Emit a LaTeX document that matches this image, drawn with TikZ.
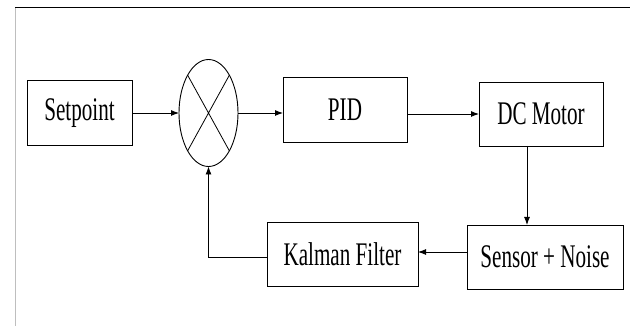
\documentclass[tikz,border=0pt]{standalone}
\usepackage{fontspec}
\setmainfont[FakeStretch=0.64]{Liberation Serif}
\usepackage{tikz}
\usetikzlibrary{arrows.meta,calc,positioning,shapes.geometric}
\definecolor{FrameGray}{RGB}{190,190,190}

\begin{document}
\begin{tikzpicture}[x=1pt,y=-1pt,
  block/.style={draw,line width=0.9pt,rectangle,inner sep=0pt,outer sep=0pt,
    font=\fontsize{33}{36}\selectfont},
  signal/.style={-{Latex[length=8pt,width=6pt]},line width=0.9pt}]
  \useasboundingbox (0,0) rectangle (630,326);
  \draw[FrameGray,line width=1pt] (15,326) -- (15,8);
  \draw[line width=1pt] (15,8) -- (630,8);
  \node[block,minimum width=105pt,minimum height=65pt] (setpoint) at (79.5,113) {Setpoint};
  \node[draw,ellipse,line width=0.9pt,inner sep=0pt,outer sep=0pt,
    minimum width=59pt,minimum height=107pt] (sum) at (208.5,113) {};
  \draw[line width=0.8pt] (sum.north west) -- (sum.south east)
    (sum.north east) -- (sum.south west);
  \node[block,minimum width=124pt,minimum height=65pt] (pid) at (345,109.5) {PID};
  \node[block,minimum width=124pt,minimum height=64pt] (motor) at (541,114) {DC Motor};
  \node[block,minimum width=156pt,minimum height=64pt] (sensor) at (545,257) {Sensor + Noise};
  \node[block,minimum width=151pt,minimum height=64pt] (kalman) at (342.5,254) {Kalman Filter};
  % forward path
  \draw[signal] (setpoint.east) -- (setpoint.east -| sum.west);
  \draw[signal] (sum.east) -- (sum.east -| pid.west);
  \draw[signal] (pid.east |- motor.west) -- (motor.west);
  \draw[signal] ([xshift=-14pt]motor.south) -- ([xshift=-14pt]motor.south |- sensor.north);
  % feedback
  \draw[signal] ([yshift=5pt]sensor.west) -- ([yshift=5pt]sensor.west -| kalman.east);
  \draw[signal] ([yshift=-3pt]kalman.west) -| (sum.south);
\end{tikzpicture}
\end{document}
